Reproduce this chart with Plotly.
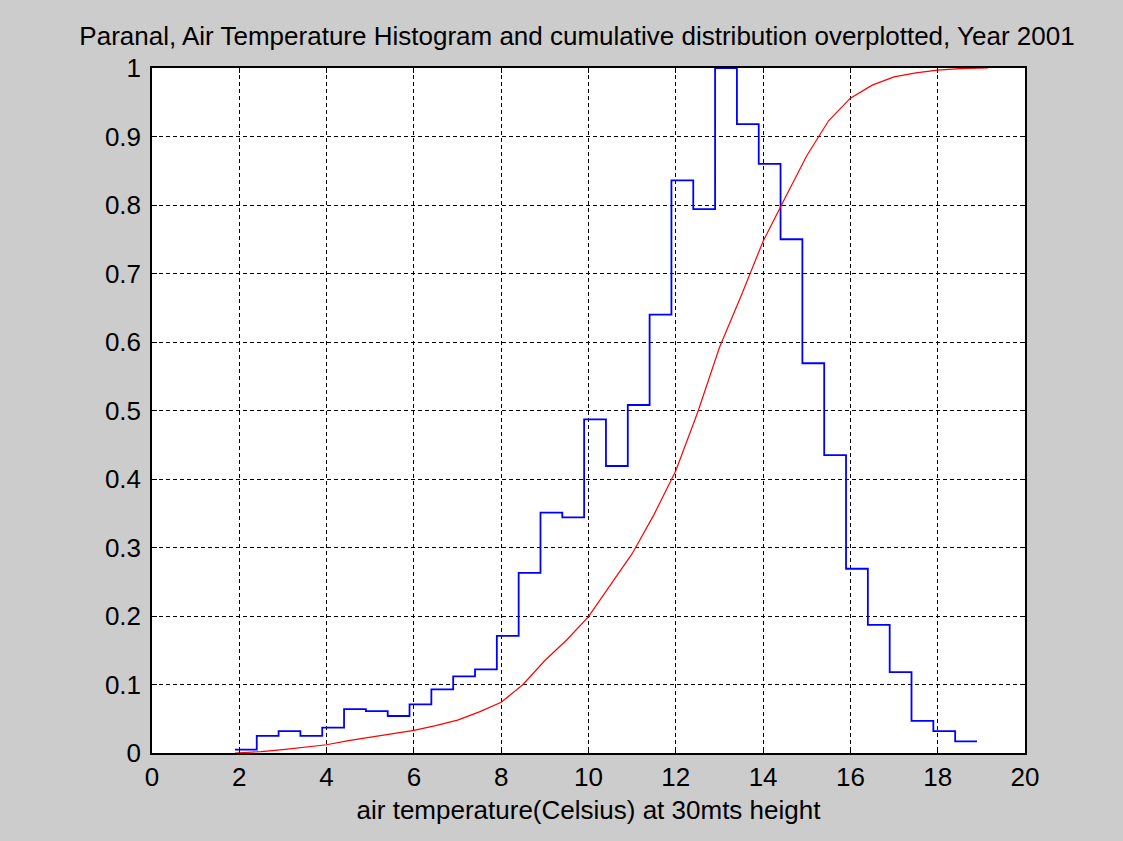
import plotly.graph_objects as go

# Histogram (normalised to max = 1): bin edges and heights
bin_edges = [1.9, 2.4, 2.9, 3.4, 3.9, 4.4, 4.9, 5.4, 5.9, 6.4, 6.9, 7.4, 7.9, 8.4,
             8.9, 9.4, 9.9, 10.4, 10.9, 11.4, 11.9, 12.4, 12.9, 13.4, 13.9, 14.4,
             14.9, 15.4, 15.9, 16.4, 16.9, 17.4, 17.9, 18.4, 18.9]
hist_values = [0.005, 0.025, 0.032, 0.025, 0.037, 0.064, 0.061, 0.054, 0.071, 0.093,
               0.112, 0.122, 0.171, 0.263, 0.351, 0.344, 0.487, 0.419, 0.508, 0.640,
               0.836, 0.794, 1.000, 0.918, 0.860, 0.750, 0.569, 0.435, 0.269, 0.187,
               0.118, 0.047, 0.032, 0.017]

# Cumulative distribution
cum_x = [1.9, 2.5, 3.0, 3.5, 4.0, 4.5, 5.0, 5.5, 6.0, 6.5, 7.0, 7.5, 8.0, 8.5, 9.0,
         9.5, 10.0, 10.5, 11.0, 11.5, 12.0, 12.5, 13.0, 13.5, 14.0, 14.5, 15.0, 15.5,
         16.0, 16.5, 17.0, 17.5, 18.0, 18.5, 19.0, 19.15]
cum_y = [0.0, 0.002, 0.005, 0.008, 0.012, 0.018, 0.023, 0.028, 0.033, 0.040, 0.048,
         0.060, 0.074, 0.100, 0.135, 0.165, 0.199, 0.245, 0.291, 0.348, 0.412, 0.497,
         0.592, 0.668, 0.747, 0.810, 0.872, 0.923, 0.956, 0.975, 0.987, 0.993, 0.997,
         0.999, 1.0, 1.0]

x_ticks = [0, 2, 4, 6, 8, 10, 12, 14, 16, 18, 20]
y_ticks = [0, 0.1, 0.2, 0.3, 0.4, 0.5, 0.6, 0.7, 0.8, 0.9, 1]
y_tick_labels = ["0", "0.1", "0.2", "0.3", "0.4", "0.5", "0.6", "0.7", "0.8", "0.9", "1"]

title_text = "Paranal, Air Temperature Histogram and cumulative distribution overplotted, Year 2001"
x_label = "air temperature(Celsius) at 30mts height"

FONT = "Liberation Sans, Arial, sans-serif"
FS = 26

fig = go.Figure()
fig.add_trace(go.Scatter(
    x=bin_edges, y=hist_values + [hist_values[-1]],
    mode="lines", line=dict(color="#0000ff", width=1.8, shape="hv"),
    showlegend=False, hoverinfo="skip"))
fig.add_trace(go.Scatter(
    x=cum_x, y=cum_y, mode="lines",
    line=dict(color="#ff0000", width=1.2),
    showlegend=False, hoverinfo="skip"))

axis_common = dict(
    showline=True, linecolor="black", linewidth=1.5, mirror="ticks",
    ticks="inside", ticklen=5, tickcolor="black",
    showgrid=True, gridcolor="black", gridwidth=1, griddash="4px,3px",
    zeroline=False, tickfont=dict(family=FONT, size=FS, color="black"),
)

fig.update_xaxes(range=[0, 20], tickvals=x_ticks, ticktext=[str(v) for v in x_ticks],
                 title=dict(text=x_label, font=dict(family=FONT, size=FS, color="black"),
                            standoff=10),
                 ticklabelstandoff=0,
                 **axis_common)
fig.update_yaxes(range=[0, 1], tickvals=y_ticks, ticktext=y_tick_labels,
                 ticklabelstandoff=4, **axis_common)

fig.update_layout(
    width=1123, height=841,
    margin=dict(l=152, r=98, t=68, b=88),
    paper_bgcolor="#cccccc", plot_bgcolor="white",
    title=dict(text=title_text, font=dict(family=FONT, size=FS, color="black"),
               x=577 / 1123, xanchor="center", xref="container",
               y=1 - 36 / 841, yanchor="middle", yref="container"),
    font=dict(family=FONT, color="black"),
)

fig.write_html("out.html", config={"displayModeBar": False},
               post_script="document.body.style.margin='0px';")
